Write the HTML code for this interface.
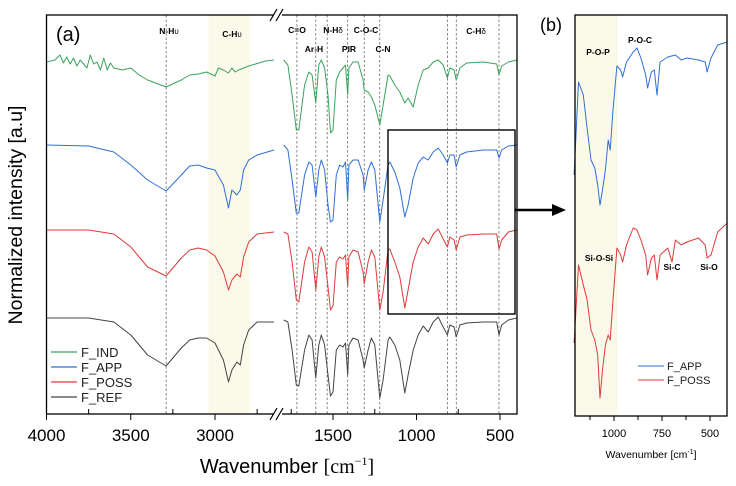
<!DOCTYPE html>
<html><head><meta charset="utf-8"><style>
html,body{margin:0;padding:0;background:#fff;}
svg{display:block;font-family:"Liberation Sans",Arial,sans-serif;}
</style></head><body>
<svg id="chart" width="736" height="486" viewBox="0 0 736 486" xmlns="http://www.w3.org/2000/svg"></svg>
<script>
// ---- Panel (a) data ----
const wnA = [4000,3750,3600,3500,3400,3290,3200,3150,3100,3050,3000,2950,2920,2900,2870,2850,2830,2800,2750,2650,
 1795,1770,1745,1720,1705,1670,1645,1625,1603,1585,1570,1550,1530,1515,1500,1480,1460,1440,1425,1412,1405,1380,1350,1320,1313,1290,1270,1250,1220,1200,1170,1160,1130,1100,1070,1050,1020,990,960,930,900,870,840,815,800,775,762,740,700,600,520,506,490,450,400];
const refVals = [96,96,92,79,59,48,66,74,76,76,71,54,32,44,52,49,69,84,92,92,
 94,92,64,29,28,64,79,74,36,69,79,69,39,18,22,64,69,67,71,39,69,76,74,54,46,64,76,69,16,34,74,77,69,54,21,39,64,79,88,82,92,97,87,79,89,87,77,89,91,92,92,79,89,94,96];
const possVals = [184,184,180,167,147,138,156,164,166,164,158,142,124,134,140,137,157,172,180,182,
 182,180,152,114,112,152,167,162,124,157,167,157,127,104,108,152,157,155,159,127,157,164,162,142,130,152,164,157,104,122,164,165,152,137,106,124,152,167,176,170,180,185,175,167,177,174,164,177,179,180,180,165,174,182,184];
const appVals = [269,268,262,249,234,223,239,248,249,246,244,229,206,224,219,224,244,254,259,264,
 269,264,234,201,201,239,252,249,217,244,254,244,209,192,194,239,249,247,252,214,249,254,254,239,224,244,252,244,192,214,249,252,242,226,197,209,236,251,257,254,262,266,259,251,259,259,247,259,262,264,264,256,264,268,269];
const wnInd = [4000,3950,3920,3900,3880,3860,3840,3820,3800,3760,3740,3720,3700,3680,3660,3640,3620,3600,3550,3500,3450,3400,3290,3200,3150,3100,3050,3000,2980,2950,2920,2900,2880,2860,2800,2700,2650,
 1795,1770,1745,1720,1705,1670,1645,1625,1603,1585,1570,1550,1530,1515,1500,1480,1460,1440,1425,1412,1405,1380,1350,1320,1313,1290,1270,1250,1220,1200,1170,1160,1130,1100,1070,1050,1020,990,960,930,900,870,840,815,800,775,762,740,700,600,520,506,490,450,400];
const indVals = [352,354,359,351,357,350,356,348,354,346,359,350,352,344,356,344,351,346,344,346,339,334,327,334,339,340,342,338,346,344,341,346,342,344,348,353,354,
 354,349,319,284,284,329,342,339,311,349,354,346,319,281,284,334,342,346,349,319,346,352,352,334,324,322,317,309,289,309,339,338,329,322,311,316,307,329,344,346,352,354,349,336,346,344,334,346,351,352,350,339,348,352,354];
const markerWn = [3290,1716,1603,1535,1412,1313,1220,815,762,506];
const ticksLeft = [4000,3500,3000];
const ticksRight = [1500,1000,500];
// ---- Panel (b) data ----
const wnBApp = [1208,1185,1160,1140,1120,1100,1085,1073,1060,1045,1030,1020,1005,985,965,955,935,900,880,860,835,825,805,790,776,760,720,680,650,620,560,525,515,495,460,410];
const appBVals = [239,332,319,286,254,246,229,209,224,244,274,264,304,348,344,337,352,362,366,356,339,326,342,344,319,352,357,359,354,356,354,352,342,356,369,372];
const wnBPoss = [1208,1185,1160,1140,1120,1100,1085,1073,1060,1045,1030,1020,1005,985,965,955,935,900,880,860,835,825,805,790,776,760,720,698,680,650,620,560,525,515,495,460,410];
const possBVals = [71,149,129,114,84,74,59,16,44,69,79,74,114,166,159,152,169,186,184,174,159,139,156,159,134,159,166,152,174,169,172,176,169,156,159,182,191];
const ticksB = [1000,750,500];

const NS="http://www.w3.org/2000/svg";
const svg=document.getElementById('chart');
function mk(tag,attrs,parent){const e=document.createElementNS(NS,tag);for(const k in attrs)e.setAttribute(k,attrs[k]);(parent||svg).appendChild(e);return e;}
function xa(w){return w>=2650?46.5+(4000-w)*0.1685:333+(1500-w)*0.167;}
function ya(v){return 414-v;}
function xb(w){return 614+(1000-w)*0.192;}

// shaded bands
let band=mk('rect',{x:xa(3040),y:15,width:xa(2790)-xa(3040),height:399,fill:'#fbfaea'});


let bandB=mk('rect',{x:575,y:15,width:xb(980)-575,height:401,fill:'#fbfaea'});



// dashed markers
markerWn.forEach(w=>{
  const l=mk('line',{x1:xa(w),x2:xa(w),y1:15,y2:414,stroke:'#555','stroke-width':0.7,'stroke-dasharray':'2.5,2'});
  
  
});

function seriesPath(wn,vals,xf,color,name){
  let d='';let prevLeft=null;
  for(let i=0;i<wn.length;i++){
    const left = xf===xa ? wn[i]>=2650 : true;
    const cmd = (i===0 || (prevLeft!==null && left!==prevLeft)) ? 'M':'L';
    d+=cmd+xf(wn[i]).toFixed(1)+','+ya(vals[i]).toFixed(1)+' ';
    prevLeft=left;
  }
  const p=mk('path',{d:d,fill:'none',stroke:color,'stroke-width':1,'stroke-linejoin':'round'});
  
  
}
seriesPath(wnInd,indVals,xa,'#3aa35c','f-ind-line');
seriesPath(wnA,appVals,xa,'#2f6fd6','f-app-line');
seriesPath(wnA,possVals,xa,'#e03a3a','f-poss-line');
seriesPath(wnA,refVals,xa,'#444','f-ref-line');
seriesPath(wnBApp,appBVals,xb,'#2f6fd6','f-app-zoom-line');
seriesPath(wnBPoss,possBVals,xb,'#e03a3a','f-poss-zoom-line');

// frames
let fa=mk('rect',{x:46.5,y:15,width:470.5,height:399,fill:'none',stroke:'#000','stroke-width':1.3});


let fb=mk('rect',{x:575,y:15,width:152,height:401,fill:'none',stroke:'#000','stroke-width':1.3});


// axis break
let br=mk('g',{});


mk('rect',{x:274,y:10,width:8,height:10,fill:'#fff'},br);
mk('rect',{x:274,y:409,width:8,height:10,fill:'#fff'},br);
[[270,21,277,9],[276,21,283,9],[270,420,277,408],[276,420,283,408]].forEach(c=>mk('line',{x1:c[0],y1:c[1],x2:c[2],y2:c[3],stroke:'#000','stroke-width':1.2},br));

// zoom box and arrow
let zb=mk('rect',{x:388,y:130,width:127,height:184,fill:'none',stroke:'#000','stroke-width':1.4});


let ar=mk('line',{x1:515,y1:210,x2:554,y2:210,stroke:'#000','stroke-width':2.5});


let ah=mk('polygon',{points:'552,204 566,210 552,216',fill:'#000'});



// ticks a
function tick(x,y1,y2){mk('line',{x1:x,x2:x,y1:y1,y2:y2,stroke:'#000','stroke-width':1});}
ticksLeft.concat(ticksRight).forEach(t=>{
  tick(xa(t),414,420);
  const tx=mk('text',{x:xa(t),y:441,'font-size':17,'text-anchor':'middle',fill:'#000'});
  tx.textContent=t;
  
  
});
[3750,3250,2750,1750,1250,750].forEach(t=>tick(xa(t),414,409));
ticksB.forEach(t=>{
  tick(xb(t),416,421);
  const tx=mk('text',{x:xb(t),y:437,'font-size':11,'text-anchor':'middle',fill:'#000'});
  tx.textContent=t;
  
  
});
[1125,875,625].forEach(t=>tick(xb(t),416,420));

function txt(x,y,s,size,name,extra){
  const t=mk('text',Object.assign({x:x,y:y,'font-size':size,fill:'#000'},extra||{}));
  t.innerHTML=s;
  
  
  return t;
}
txt(56,41,'(a)',20,'panel-a-label');
txt(540,31,'(b)',18,'panel-b-label');
txt(287,473,'Wavenumber <tspan font-family="Liberation Serif">[cm<tspan font-size="12" dy="-8">−1</tspan><tspan dy="8">]</tspan></tspan>',20,'x-axis-title',{'text-anchor':'middle'});
txt(651,458,'Wavenumber [cm<tspan font-size="7" dy="-4">-1</tspan><tspan dy="4">]</tspan>',10.5,'b-x-axis-title',{'text-anchor':'middle'});
txt(0,0,'Normalized intensity [a.u]',19.5,'y-axis-title',{'text-anchor':'middle',transform:'translate(22,215) rotate(-90)'});

const ab={'font-weight':'bold','text-anchor':'middle'};
txt(169,34,'N-H<tspan font-weight="normal" font-size="8">υ</tspan>',8.5,'label-nh-stretch',ab);
txt(232,37,'C-H<tspan font-weight="normal" font-size="8">υ</tspan>',8.5,'label-ch-stretch',ab);
txt(297,33,'C=O',8.5,'label-co',ab);
txt(314,52,'Ar-H',8.5,'label-arh',ab);
txt(333,33,'N-H<tspan font-weight="normal" font-size="8">δ</tspan>',8.5,'label-nh-bend',ab);
txt(349,52,'PIR',8.5,'label-pir',ab);
txt(366,33,'C-O-C',8.5,'label-coc',ab);
txt(383,52,'C-N',8.5,'label-cn',ab);
txt(476,34,'C-H<tspan font-weight="normal" font-size="8">δ</tspan>',8.5,'label-ch-bend',ab);
txt(598,55,'P-O-P',8.5,'label-pop',ab);
txt(640,43,'P-O-C',8.5,'label-poc',ab);
txt(599,261,'Si-O-Si',8.5,'label-siosi',ab);
txt(672,270,'Si-C',8.5,'label-sic',ab);
txt(709,270,'Si-O',8.5,'label-sio',ab);

// legends
const legA=[['F_IND','#3aa35c'],['F_APP','#2f6fd6'],['F_POSS','#e03a3a'],['F_REF','#444']];
legA.forEach((e,i)=>{
  const y=352+i*15;
  const g=mk('g',{});
  
  
  mk('line',{x1:51,x2:77,y1:y,y2:y,stroke:e[1],'stroke-width':1.2},g);
  const t=mk('text',{x:81,y:y+5,'font-size':13,fill:'#222'},g);t.textContent=e[0];
});
const legB=[['F_APP','#2f6fd6'],['F_POSS','#e03a3a']];
legB.forEach((e,i)=>{
  const y=366+i*14;
  const g=mk('g',{});
  
  
  mk('line',{x1:638,x2:664,y1:y,y2:y,stroke:e[1],'stroke-width':1},g);
  const t=mk('text',{x:667,y:y+4,'font-size':11,fill:'#222'},g);t.textContent=e[0];
});
</script>
</body></html>
